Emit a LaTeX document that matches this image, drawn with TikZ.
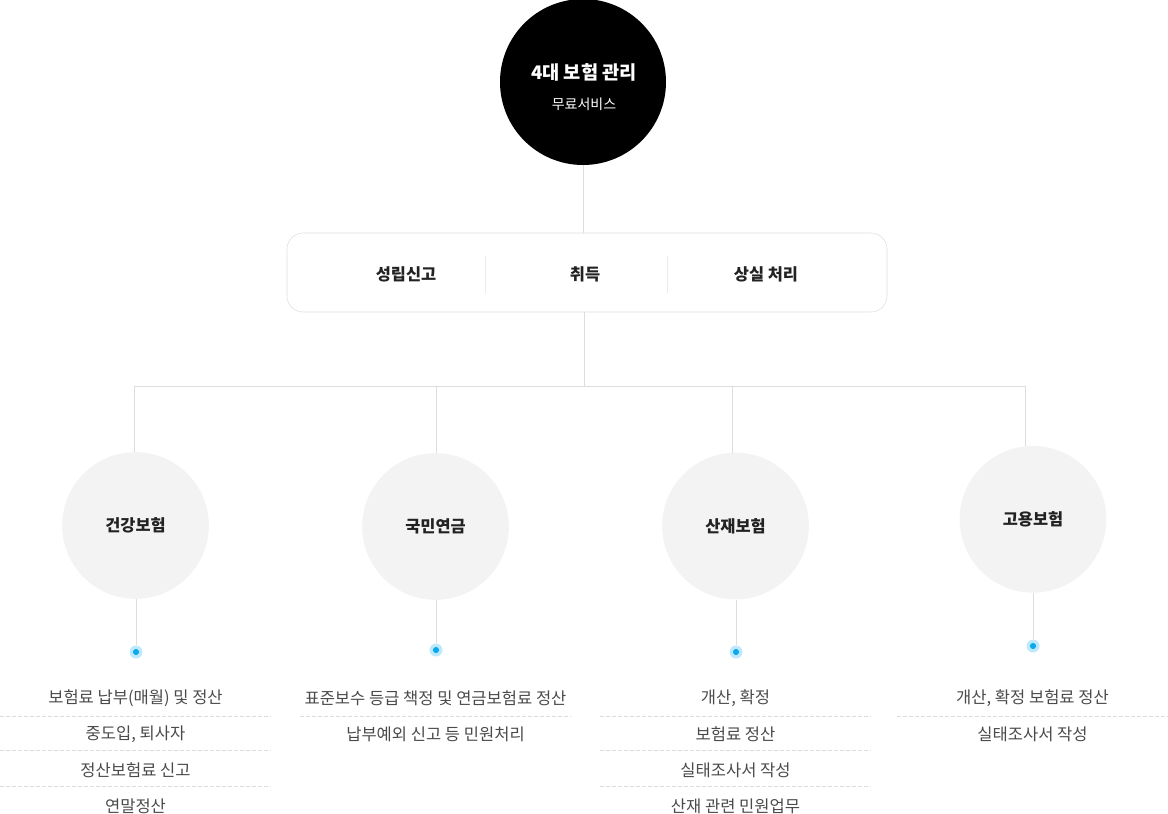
\documentclass[tikz,border=0pt]{standalone}
\usepackage{fontspec}
\setmainfont{Noto Sans CJK KR}
\usetikzlibrary{positioning,calc}

\definecolor{linegray}{HTML}{DDDDDD}
\definecolor{softgray}{HTML}{F3F3F3}
\definecolor{inkgray}{HTML}{222222}
\definecolor{itemgray}{HTML}{4A4A4A}
\definecolor{dotring}{HTML}{BDE9FB}
\definecolor{dotcore}{HTML}{0AA8EE}

\begin{document}
\begin{tikzpicture}[
  x=0.75pt, y=-0.75pt,
  hub/.style={circle, fill=black, minimum size=124.5pt, inner sep=0pt},
  bar/.style={draw=linegray, rounded corners=12pt, minimum width=450pt,
              minimum height=59.25pt, inner sep=0pt},
  tab/.style={font=\fontsize{12.3}{14}\selectfont\bfseries, text=inkgray},
  ins/.style={circle, fill=softgray, minimum size=110pt, inner sep=0pt,
              font=\fontsize{12.3}{14}\selectfont\bfseries, text=inkgray},
  dot/.style={circle, fill=dotring, minimum size=9.75pt, inner sep=0pt,
              path picture={\fill[dotcore] (path picture bounding box.center) circle (2.3pt);}},
  item/.style={font=\fontsize{12.4}{14}\selectfont, text=itemgray},
  link/.style={draw=linegray, line width=0.75pt},
  sep/.style={draw=linegray, line width=0.75pt, dash pattern=on 3pt off 1.5pt}
]
  \useasboundingbox (0,0) rectangle (1168,814);

  % top
  \node[hub] (top) at (583,82) {};
  \node[text=white, font=\fontsize{14}{16}\selectfont\bfseries] (title) at (584,72) {4대 보험 관리};
  \node[text=white, font=\fontsize{10.5}{12}\selectfont] (sub) at (584,104) {무료서비스};

  % task bar
  \node[bar] (bar) at (587,272.5) {};
  \node[tab] (t1) at (406,274) {성립신고};
  \node[tab] (t2) at (585,274) {취득};
  \node[tab] (t3) at (766,274) {상실 처리};
  \draw[linegray!60, line width=0.75pt] (485,256) -- (485,293);
  \draw[linegray!60, line width=0.75pt] (667,256) -- (667,293);

  % insurances
  \node[ins] (c1) at (135.5,525.5) {건강보험};
  \node[ins] (c2) at (435.5,526.5) {국민연금};
  \node[ins] (c3) at (735.5,526) {산재보험};
  \node[ins] (c4) at (1033,519.3) {고용보험};

  \node[dot] (d1) at (136,652) {};
  \node[dot] (d2) at (436,650) {};
  \node[dot] (d3) at (736,652) {};
  \node[dot] (d4) at (1033,646) {};

  % tree
  \coordinate (hb) at (584,386);
  \coordinate (j1) at (134.5,386);
  \coordinate (j2) at (436.3,386);
  \coordinate (j3) at (732.3,386);
  \coordinate (j4) at (1025.7,386);

  \draw[link] (top.south) -- (top.south |- bar.north);
  \draw[link] (bar.south -| hb) -- (hb);
  \draw[link] (j1) -- (j4);
  \draw[link] (j1) -- (j1 |- c1.north);
  \draw[link] (j2) -- (j2 |- c2.north);
  \draw[link] (j3) -- ($(j3 |- c3.north)+(0,0.3)$);
  \draw[link] (j4) -- ($(j4 |- c4.north)+(0,0.4)$);
  \draw[link] (c1.south -| d1) -- (d1);
  \draw[link] (c2.south -| d2) -- (d2);
  \draw[link] (c3.south -| d3) -- (d3);
  \draw[link] (c4.south -| d4) -- (d4);

  % lists
  \node[item] (a1) at (135.5,698) {보험료 납부(매월) 및 정산};
  \node[item] (a2) at (135.5,734.5) {중도입, 퇴사자};
  \node[item] (a3) at (135.5,770) {정산보험료 신고};
  \node[item] (a4) at (135.5,806) {연말정산};
  \draw[sep] (0,716.5) -- (271,716.5);
  \draw[sep] (0,750.5) -- (271,750.5);
  \draw[sep] (0,786.5) -- (271,786.5);

  \node[item] (b1) at (435.5,698) {표준보수 등급 책정 및 연금보험료 정산};
  \node[item] (b2) at (435.5,734.5) {납부예외 신고 등 민원처리};
  \draw[sep] (300,716.5) -- (571,716.5);

  \node[item] (e1) at (735.5,698) {개산, 확정};
  \node[item] (e2) at (735.5,734.5) {보험료 정산};
  \node[item] (e3) at (735.5,770) {실태조사서 작성};
  \node[item] (e4) at (735.5,806) {산재 관련 민원업무};
  \draw[sep] (600,716.5) -- (871,716.5);
  \draw[sep] (600,750.5) -- (871,750.5);
  \draw[sep] (600,786.5) -- (871,786.5);

  \node[item] (f1) at (1032.5,698) {개산, 확정 보험료 정산};
  \node[item] (f2) at (1032.5,734.5) {실태조사서 작성};
  \draw[sep] (897,716.5) -- (1168,716.5);
\end{tikzpicture}
\end{document}
